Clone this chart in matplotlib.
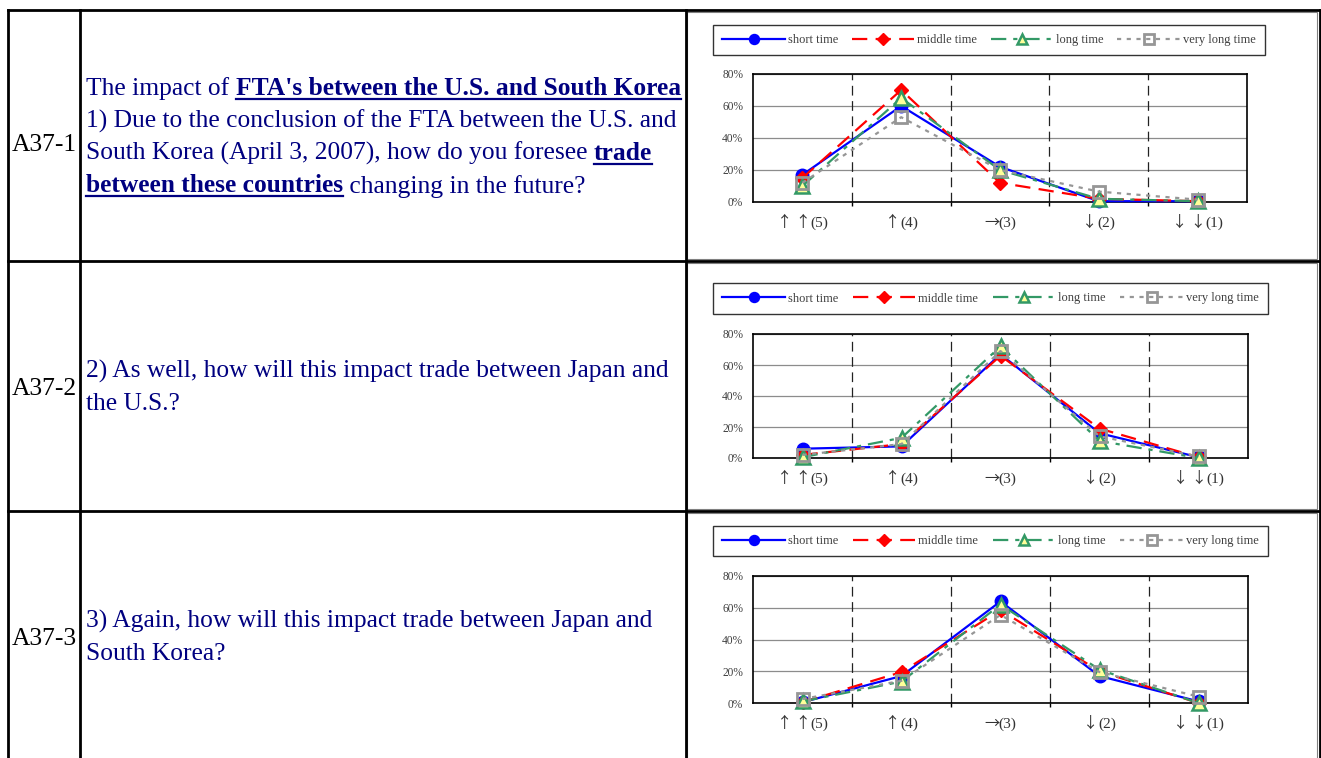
import matplotlib
matplotlib.use("Agg")
import matplotlib.pyplot as plt
from matplotlib.lines import Line2D
from matplotlib.patches import Rectangle
from matplotlib.ticker import FixedLocator, FuncFormatter, NullFormatter

# ---------------- data ----------------
categories = ["\u2191 \u2191(5)", "\u2191(4)", "\u2192(3)", "\u2193(2)", "\u2193 \u2193(1)"]
series_names = ["short time", "middle time", "long time", "very long time"]

# A37-1 : trade between U.S. and South Korea (percent)
a371_short = [17, 60, 22, 0.5, 0.5]
a371_middle = [15, 70, 12, 2, 0.5]
a371_long = [10, 65, 20, 2, 0.5]
a371_vlong = [12, 53, 20, 6.5, 1.5]

# A37-2 : trade between Japan and U.S.
a372_short = [6, 7.5, 67, 16, 0.5]
a372_middle = [2, 9, 66, 19, 0.5]
a372_long = [0.5, 13, 72, 11, 0]
a372_vlong = [2, 9, 69, 14, 1]

# A37-3 : trade between Japan and South Korea
a373_short = [0.5, 17, 64, 17, 1]
a373_middle = [0.5, 19.5, 58.5, 20, 0]
a373_long = [1, 13.5, 62, 21, 0]
a373_vlong = [2.5, 14, 55.5, 19.5, 4]

row_labels = ["A37-1", "A37-2", "A37-3"]
# question text: list of lines, each line list of (text, bold_underlined)
q1_lines = [
    [("The impact of ", False), ("FTA's between the U.S. and South Korea", True)],
    [("1) Due to the conclusion of the FTA between the U.S. and", False)],
    [("South Korea (April 3, 2007), how do you foresee ", False), ("trade", True)],
    [("between these countries", True), (" changing in the future?", False)],
]
q2_lines = [
    [("2) As well, how will this impact trade between Japan and", False)],
    [("the U.S.?", False)],
]
q3_lines = [
    [("3) Again, how will this impact trade between Japan and", False)],
    [("South Korea?", False)],
]

# ---------------- layout helpers ----------------
W, H = 1321, 758
plt.rcParams['lines.scale_dashes'] = False
fig = plt.figure(figsize=(W / 100, H / 100), dpi=100)
fig.patch.set_facecolor("white")
renderer = fig.canvas.get_renderer()

SERIF = ["Liberation Serif", "DejaVu Serif"]
CJK = ["Noto Sans CJK JP", "DejaVu Sans"]
NAVY = "#000080"
ARROWS = "\u2190\u2191\u2192\u2193 "


def fx(x):
    return x / W


def fy(y):
    return 1 - y / H


def hline(y, x0, x1, lw=2.0, color="black"):
    fig.add_artist(Line2D([fx(x0), fx(x1)], [fy(y), fy(y)], lw=lw, color=color,
                          transform=fig.transFigure, solid_capstyle="projecting"))


def vline(x, y0, y1, lw=2.0, color="black"):
    fig.add_artist(Line2D([fx(x), fx(x)], [fy(y0), fy(y1)], lw=lw, color=color,
                          transform=fig.transFigure, solid_capstyle="projecting"))


def text_adv(s, fs, weight, family=SERIF):
    t1 = fig.text(0, 0, "|" + s + "|", fontsize=fs, fontweight=weight, family=family)
    t2 = fig.text(0, 0, "||", fontsize=fs, fontweight=weight, family=family)
    w = t1.get_window_extent(renderer).width - t2.get_window_extent(renderer).width
    t1.remove()
    t2.remove()
    return w


def rich_line(segs, x_px, base_px, fs):
    x = x_px
    for s, bu in segs:
        weight = "bold" if bu else "normal"
        fig.text(fx(x), fy(base_px), s, fontsize=fs, fontweight=weight, family=SERIF,
                 color=NAVY, ha="left", va="baseline")
        w = text_adv(s, fs, weight)
        if bu:
            fig.add_artist(Line2D([fx(x), fx(x + w)], [fy(base_px + 3.5)] * 2, lw=1.6,
                                  color=NAVY, transform=fig.transFigure))
        x += w


def category_label(s, cx_px, base_px, fs, color, gap=0):
    # arrows in a CJK font, the "(n)" part in serif
    n = 0
    while n < len(s) and s[n] in ARROWS:
        n += 1
    arrow, rest = s[:n], s[n:]
    if arrow.endswith("\u2192"):
        gap = -1
    wa = text_adv(arrow, fs, "normal", CJK)
    wr = text_adv(rest, fs, "normal", SERIF)
    x = cx_px - (wa + gap + wr) / 2
    fig.text(fx(x), fy(base_px), arrow, fontsize=fs, family=CJK, color=color,
             ha="left", va="baseline")
    fig.text(fx(x + wa + gap), fy(base_px), rest, fontsize=fs, family=SERIF, color=color,
             ha="left", va="baseline")


# ---------------- table ----------------
FS = 18.4
rows = [
    dict(label=row_labels[0], lab_base=151, lines=q1_lines, bases=[95, 127.5, 160, 192.5],
         top=10, bottom=261,
         data=[a371_short, a371_middle, a371_long, a371_vlong],
         ax=(753, 74, 1247, 202), leg=(713, 23, 1265, 57)),
    dict(label=row_labels[1], lab_base=395, lines=q2_lines, bases=[378, 410],
         top=261, bottom=511,
         data=[a372_short, a372_middle, a372_long, a372_vlong],
         ax=(753, 334, 1248, 458), leg=(713, 281, 1268, 316)),
    dict(label=row_labels[2], lab_base=645, lines=q3_lines, bases=[628, 660],
         top=511, bottom=770,
         data=[a373_short, a373_middle, a373_long, a373_vlong],
         ax=(753, 576, 1248, 703), leg=(713, 524, 1268, 558)),
]

styles = [
    dict(color="#0000FF", ls="-", marker="o", ms=9, mfc="#0000FF", mec="#0000FF", mew=1),
    dict(color="#FF0000", ls=(0, (11, 6)), marker="D", ms=7.5, mfc="#FF0000", mec="#FF0000", mew=1),
    dict(color="#339966", ls=(0, (11, 5, 3, 5)), marker="^", ms=9.5, mfc="#FFFF99", mec="#339966", mew=1.8),
    dict(color="#969696", ls=(0, (3, 4)), marker="s", ms=8.5, mfc="none", mec="#969696", mew=2),
]

for r in rows:
    # chart frame (thin gray)
    fig.add_artist(Rectangle((fx(687), fy(r["bottom"] - 2)), (1317 - 687) / W,
                             (r["bottom"] - 2 - r["top"] - 2) / H, transform=fig.transFigure,
                             fill=False, lw=0.8, edgecolor="#808080"))
    # label
    fig.text(fx(12), fy(r["lab_base"]), r["label"], fontsize=FS, family=SERIF,
             color="black", ha="left", va="baseline")
    for segs, b in zip(r["lines"], r["bases"]):
        rich_line(segs, 86, b, FS)

    x0, y0, x1, y1 = r["ax"]
    ax = fig.add_axes([fx(x0), fy(y1), (x1 - x0) / W, (y1 - y0) / H])
    xs = list(range(len(categories)))
    handles = []
    for vals, st, name in zip(r["data"], styles, series_names):
        ln, = ax.plot(xs, vals, color=st["color"], linestyle=st["ls"], lw=1.6,
                      marker=st["marker"], ms=st["ms"], mfc=st["mfc"], mec=st["mec"],
                      mew=st["mew"], label=name, clip_on=False, zorder=3,
                      dash_capstyle="butt")
        handles.append(ln)
    ax.set_xlim(-0.5, len(categories) - 0.5)
    ax.set_ylim(0, 80)
    ax.yaxis.set_major_locator(FixedLocator([0, 20, 40, 60, 80]))
    ax.yaxis.set_major_formatter(FuncFormatter(lambda v, p: "%d%%" % v))
    ax.set_xticks(xs)
    ax.xaxis.set_major_formatter(NullFormatter())
    ax.set_xticks([i + 0.5 for i in range(len(categories) - 1)], minor=True)
    ax.tick_params(axis="x", which="major", length=0)
    ax.tick_params(axis="x", which="minor", length=3, width=1, direction="out", color="black")
    ax.tick_params(axis="y", length=0, pad=7, labelsize=8.3, labelcolor="#404040")
    for lab in ax.get_yticklabels():
        lab.set_family(SERIF)
    ax.grid(axis="y", color="#8c8c8c", lw=0.9, zorder=1)
    for xb in [i + 0.5 for i in range(len(categories) - 1)]:
        ax.axvline(xb, color="#222222", lw=0.9, ls=(0, (7, 4)), zorder=1)
    for sp in ax.spines.values():
        sp.set_linewidth(1.2)
        sp.set_color("black")
    ax.set_axisbelow(True)

    # category labels placed at the data x positions
    for i, cat in enumerate(categories):
        cx = ax.transData.transform((i, 0))[0]
        category_label(cat, cx, y1 + 25, 11, "#333333")

    lx0, ly0, lx1, ly1 = r["leg"]
    leg = ax.legend(handles=handles, labels=series_names, loc="center",
                    bbox_to_anchor=(fx(lx0), fy(ly1), (lx1 - lx0) / W, (ly1 - ly0) / H),
                    bbox_transform=fig.transFigure, mode="expand", ncol=4,
                    handlelength=5.0, handletextpad=0.25, columnspacing=0.8,
                    borderpad=0.75, borderaxespad=0, fancybox=False, framealpha=1,
                    markerscale=0.8,
                    edgecolor="#333333", prop=dict(family=SERIF, size=9))
    leg.get_frame().set_linewidth(1.0)
    for t in leg.get_texts():
        t.set_color("#404040")

# table lines
hline(10, 8, 1319)
hline(261, 8, 1319)
hline(511, 8, 1319)
vline(8, 10, 758)
vline(80, 10, 758)
vline(685.5, 10, 758)
vline(1319.5, 10, 758)

fig.savefig("out.png", dpi=100, facecolor="white")
